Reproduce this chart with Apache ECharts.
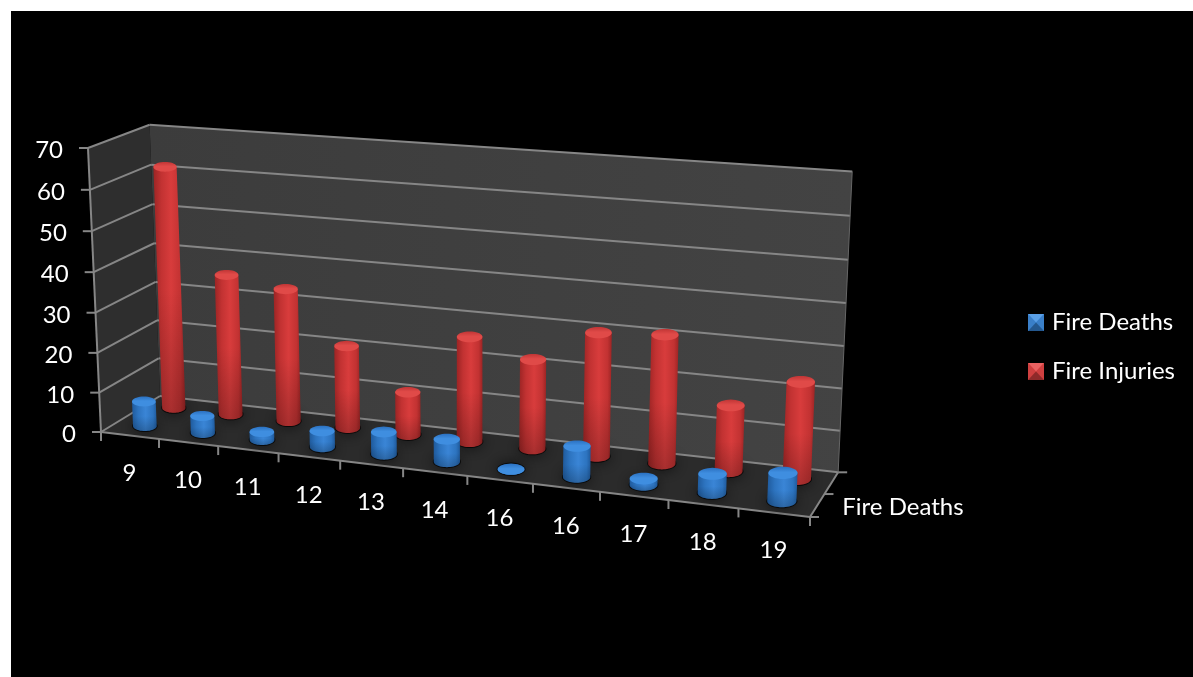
<!DOCTYPE html>
<html>
<head>
<meta charset="utf-8">
<style>
html,body{margin:0;padding:0;background:#fff;width:1193px;height:677px;overflow:hidden}
#bg{position:absolute;left:11px;top:11px;right:0;bottom:0;background:#000}
#chart{position:absolute;left:0;top:0;width:1193px;height:677px}
</style>
<script src="https://cdn.jsdelivr.net/npm/echarts@6/dist/echarts.min.js"></script>
</head>
<body>
<div id="bg"></div>
<div id="chart"></div>
<script>
const categories = ['9','10','11','12','13','14','16','16','17','18','19'];
const fireDeaths = [6.3,4.3,2,4,5.5,5.5,0,7.4,1.5,4.5,6.6];
const fireInjuries = [61.5,35.7,33.5,20.7,10.7,26,22,30,31,15.8,23];
const yTicks = [0,10,20,30,40,50,60,70];
const depthName = 'Fire Deaths';

// Perspective of the 3D box: floor corners, depth factors and the vertical vanishing point
const FL=[101,432], FR=[810,517], BL=[160,396], VP=[467,8420], HEIGHT_K=-0.03433, g=-0.109, h=0.05;
const a=FR[0]*(1+g)-FL[0], b=BL[0]*(1+h)-FL[0], c=FL[0];
const d=FR[1]*(1+g)-FL[1], e=BL[1]*(1+h)-FL[1], f=FL[1];
function P(u,v,w){
  const s=v*HEIGHT_K, z=g*u+h*w+1+s;
  return [(a*u+b*w+c+s*VP[0])/z,(d*u+e*w+f+s*VP[1])/z];
}
function norm(params,api,cat,val){
  const cs=params.coordSys, pt=api.coord([cat,val]);
  return [(pt[0]-cs.x)/cs.width,(cs.y+cs.height-pt[1])/cs.height];
}
const TXT='#ffffff', FONT='24px Lato, Carlito, sans-serif';
const LINE='#868686';
function seg(p,q,w,col){return {type:'line',shape:{x1:p[0],y1:p[1],x2:q[0],y2:q[1]},style:{stroke:col||LINE,lineWidth:w||2}};}
function poly(pts,fill){return {type:'polygon',shape:{points:pts},style:{fill:fill}};}
function label(t,x,y,al){return {type:'text',style:{text:t,x:x,y:y,fill:TXT,font:FONT,align:al||'center',verticalAlign:'middle'}};}

function renderFrame(params,api){
  const kids=[];
  kids.push(poly([P(0,0,0),P(0,0,1),P(0,1,1),P(0,1,0)],'#2e2e2e'));
  kids.push(poly([P(0,0,1),P(1,0,1),P(1,1,1),P(0,1,1)],new echarts.graphic.LinearGradient(0,0,1,0,[{offset:0,color:'#3c3c3c'},{offset:1,color:'#434343'}])));
  kids.push(poly([P(0,0,0),P(1,0,0),P(1,0,1),P(0,0,1)],'#2b2b2b'));
  yTicks.forEach(t=>{
    const v=norm(params,api,0,t)[1];
    kids.push(seg(P(0,v,0),P(0,v,1)));
    kids.push(seg(P(0,v,1),P(1,v,1)));
    const q=P(0,v,0);
    kids.push(seg([q[0]-9,q[1]],q));
    kids.push(label(String(t),q[0]-25,q[1]+2.5,'right'));
  });
  kids.push(seg(P(0,0,0),P(0,1,0)));
  kids.push(seg(P(1,0,1),P(1,1,1),1,'#666'));
  kids.push(seg(P(0,0,0),P(1,0,0)));
  kids.push(seg(P(1,0,0),P(1,0,1)));
  const n=categories.length;
  for(let i=0;i<=n;i++){
    const q=P(i/n,0,0);
    kids.push(seg(q,[q[0],q[1]+9]));
  }
  categories.forEach((t,i)=>{
    const u=norm(params,api,i,0)[0], q=P(u,0,0);
    kids.push(label(t,q[0]-0.5,q[1]+38));
  });
  [0,0.5,1].forEach(w=>{const q=P(1,0,w);kids.push(seg(q,[q[0]+9,q[1]]));});
  const q=P(1,0,0.25);
  kids.push({type:'text',style:{text:depthName,x:q[0]+25,y:q[1]+2,fill:TXT,font:FONT,align:'left',verticalAlign:'middle'}});
  return {type:'group',children:kids};
}
function ell(cx,cy,rx,ry,t0,t1,k){
  const out=[];
  for(let i=0;i<=k;i++){const t=t0+(t1-t0)*i/k;out.push([cx+rx*Math.cos(t),cy+ry*Math.sin(t)]);}
  return out;
}
function cylinder(depth,pal){
  return function(params,api){
    const i=api.value(0), val=api.value(1);
    const nb=norm(params,api,i,0), nt=norm(params,api,i,val);
    const u=nb[0];
    const B=P(u,0,depth), T=P(u,nt[1],depth);
    const du=P(u+0.5/categories.length,0,depth), dm=P(u-0.5/categories.length,0,depth);
    const rx=Math.hypot(du[0]-dm[0],du[1]-dm[1])*0.205, ry=rx*0.42;
    const kids=[];
    kids.push({type:'polygon',shape:{points:ell(B[0],B[1],rx+1,ry+1,0,2*Math.PI,36)},style:{fill:'rgba(0,0,0,0.7)',shadowBlur:14,shadowColor:'rgba(0,0,0,0.9)'}});
    const body=[[T[0]-rx,T[1]]].concat(ell(B[0],B[1],rx,ry,Math.PI,0,24)).concat([[T[0]+rx,T[1]]]);
    kids.push({type:'polygon',shape:{points:body},style:{fill:new echarts.graphic.LinearGradient(0,0,1,0,[
      {offset:0,color:pal.edge},{offset:0.25,color:pal.mid},{offset:0.55,color:pal.bright},{offset:0.85,color:pal.mid},{offset:1,color:pal.edge}])}});
    kids.push({type:'polygon',shape:{points:body},style:{fill:new echarts.graphic.LinearGradient(0,0,0,1,[
      {offset:0,color:'rgba(0,0,0,0)'},{offset:0.5,color:'rgba(0,0,0,0)'},{offset:1,color:'rgba(0,0,0,0.22)'}])}});
    kids.push({type:'polygon',shape:{points:ell(T[0],T[1],rx,ry,0,2*Math.PI,36)},style:{fill:new echarts.graphic.LinearGradient(0,0,0,1,[
      {offset:0,color:pal.rim},{offset:0.45,color:pal.cap},{offset:1,color:pal.cap}])}});
    return {type:'group',children:kids};
  };
}
const BLUE={edge:'#1f5a9c',mid:'#2d74c0',bright:'#3a85d6',cap:'#3f8ee0',rim:'#2a70c0'};
const RED={edge:'#9c2424',mid:'#c23232',bright:'#d83c3c',cap:'#e04a48',rim:'#c03535'};

function tri(pts,col){return {type:'polygon',z:10,shape:{points:pts},style:{fill:col}};}
function key(x,y,w,hh,top,side,bot){
  const cx=x+w/2, cy=y+hh/2;
  return [
    tri([[x,y],[x+w,y],[cx,cy]],top),
    tri([[x,y],[cx,cy],[x,y+hh]],side),
    tri([[x+w,y],[cx,cy],[x+w,y+hh]],side),
    tri([[x,y+hh],[x+w,y+hh],[cx,cy]],bot)
  ];
}
const chart=echarts.init(document.getElementById('chart'),null,{renderer:'canvas'});
chart.setOption({
  backgroundColor:'transparent',
  animation:false,
  grid:{left:101,top:148,width:709,height:284},
  xAxis:{type:'category',data:categories,show:false},
  yAxis:{type:'value',min:0,max:70,interval:10,show:false},
  legend:{orient:'vertical',left:1028,top:310.5,padding:0,itemWidth:16,itemHeight:17,itemGap:25,selectedMode:false,
    icon:'rect',data:['Fire Deaths','Fire Injuries'],
    textStyle:{color:TXT,fontFamily:'Lato',fontSize:24,padding:[0,0,0,3]}},
  graphic:key(1028,314,16,17,'#5a9fe6','#3a7fc8','#24588f').concat(key(1028,363,16,17,'#ea6262','#cf4040','#8f2a2a')),
  series:[
    {type:'custom',name:'frame',coordinateSystem:'cartesian2d',silent:true,data:[[0,0]],renderItem:renderFrame,clip:false},
    {type:'custom',name:'Fire Injuries',coordinateSystem:'cartesian2d',itemStyle:{color:'#d83c3c'},renderItem:cylinder(0.75,RED),clip:false,
      data:fireInjuries.map((v,i)=>[i,v]),encode:{x:0,y:1}},
    {type:'custom',name:'Fire Deaths',coordinateSystem:'cartesian2d',itemStyle:{color:'#3a85d6'},renderItem:cylinder(0.25,BLUE),clip:false,
      data:fireDeaths.map((v,i)=>[i,v]),encode:{x:0,y:1}}
  ]
});
</script>
</body>
</html>
